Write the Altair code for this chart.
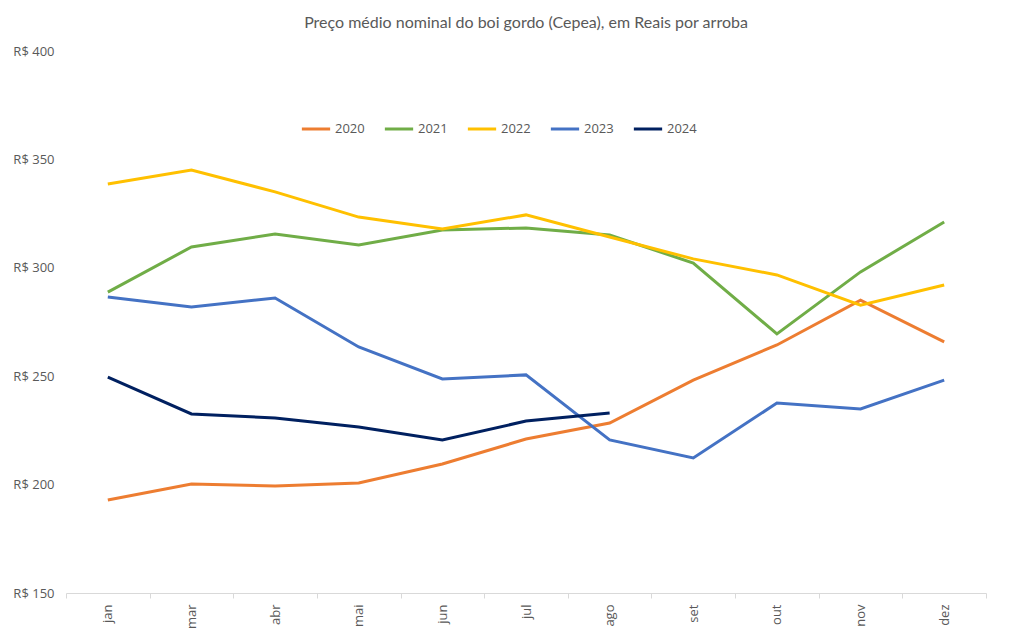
import altair as alt
import pandas as pd

months = ["jan", "mar", "abr", "mai", "jun", "jul", "ago", "set", "out", "nov", "dez"]
v2020 = [192.9, 200.3, 199.4, 200.7, 209.5, 221.0, 228.4, 248.2, 264.4, 285.1, 265.8]
v2021 = [288.8, 309.6, 315.6, 310.5, 317.4, 318.4, 315.1, 302.2, 269.5, 298.1, 321.1]
v2022 = [338.7, 345.1, 335.0, 323.4, 317.9, 324.4, 314.2, 304.1, 296.7, 282.8, 292.1]
v2023 = [286.5, 281.9, 286.1, 263.5, 248.7, 250.6, 220.6, 212.3, 237.6, 234.9, 248.2]
v2024 = [249.6, 232.6, 230.7, 226.6, 220.6, 229.3, 233.0]

years = ["2020", "2021", "2022", "2023", "2024"]
colors = ["#ED7D31", "#70AD47", "#FFC000", "#4472C4", "#002060"]
series = [v2020, v2021, v2022, v2023, v2024]

rows = []
for yr, vals in zip(years, series):
    for m, v in zip(months, vals):
        rows.append({"mes": m, "ano": yr, "valor": v})
df = pd.DataFrame(rows)

FONT = "Lato"
GREY = "#595959"

chart = alt.Chart(df).mark_line(strokeWidth=3).encode(
    x=alt.X("mes:N", sort=months, title=None,
            scale=alt.Scale(type="band", paddingInner=0, paddingOuter=0),
            axis=alt.Axis(labelAngle=270, labelAlign="right", labelBaseline="middle",
                          tickBand="extent", domainColor="#D9D9D9", tickColor="#D9D9D9",
                          tickSize=5, labelColor=GREY, labelFontSize=13, labelPadding=6,
                          labelFont="Open Sans", grid=False)),
    y=alt.Y("valor:Q", title=None,
            scale=alt.Scale(domain=[150, 400], nice=False, zero=False),
            axis=alt.Axis(values=[150, 200, 250, 300, 350, 400], labelExpr="'R$ ' + datum.value",
                          domain=False, ticks=False, grid=False, labelColor=GREY,
                          labelFontSize=13, labelFont="Open Sans", labelPadding=12)),
    color=alt.Color("ano:N", scale=alt.Scale(domain=years, range=colors),
                    legend=alt.Legend(title=None, orient="none", direction="horizontal",
                                      legendX=234, legendY=62, symbolType="stroke",
                                      symbolSize=800, symbolStrokeWidth=3,
                                      labelFontSize=13, labelColor=GREY, labelFont="Open Sans",
                                      columnPadding=13, labelOffset=3)),
    detail="ano:N",
).properties(
    width=920, height=542,
    title=alt.TitleParams("Preço médio nominal do boi gordo (Cepea), em Reais por arroba",
                          fontSize=16, font=FONT, fontWeight="normal", color=GREY,
                          anchor="middle", offset=14),
    padding={"left": 58, "top": 43, "right": 30, "bottom": 36},
    autosize=alt.AutoSizeParams(type="none"),
).configure_view(stroke=None)

chart.save("out.html", embed_options={"renderer": "svg", "actions": False})
